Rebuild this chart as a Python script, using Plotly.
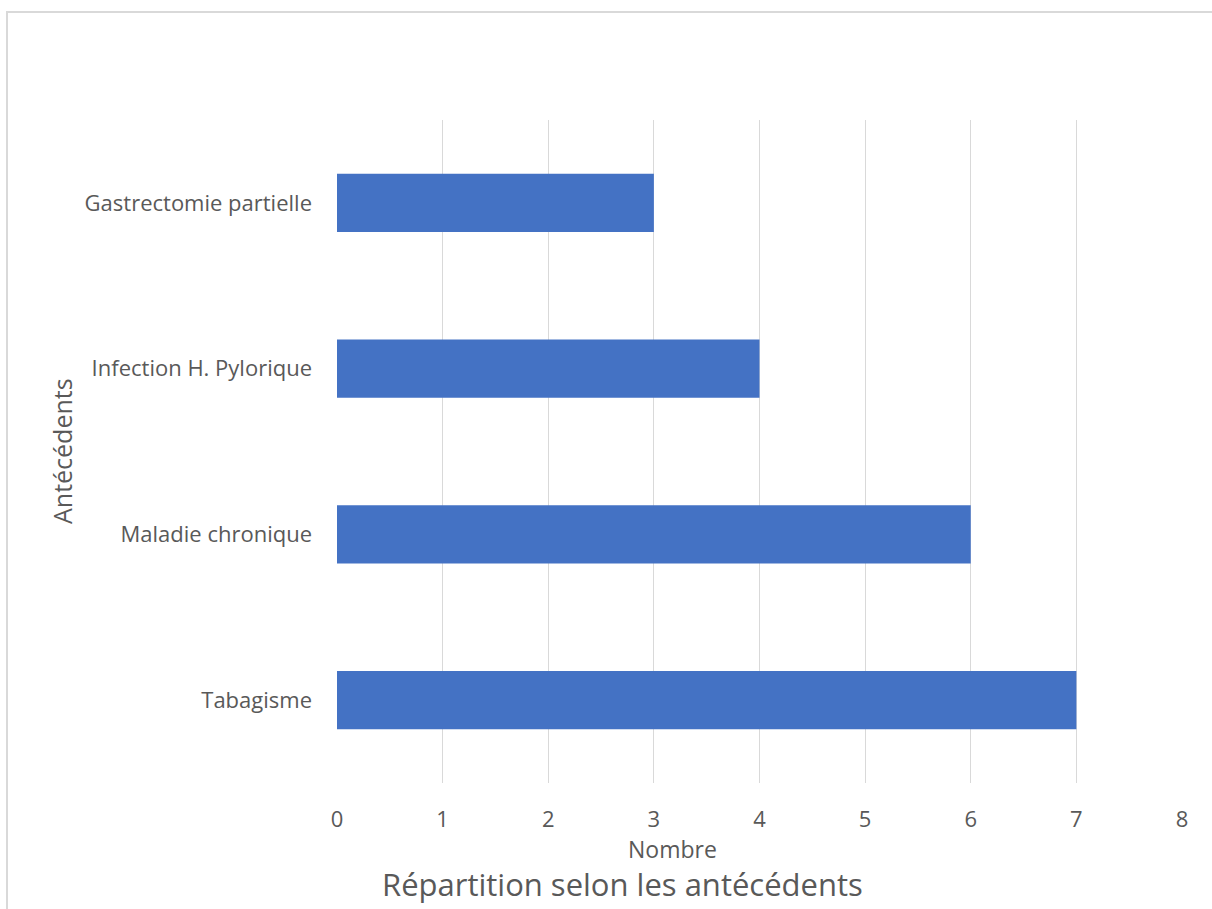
import plotly.graph_objects as go

categories = ["Tabagisme", "Maladie chronique", "Infection H. Pylorique", "Gastrectomie partielle"]
values = [7, 6, 4, 3]
x_ticks = [0, 1, 2, 3, 4, 5, 6, 7, 8]

W, H = 1212, 909
L, R, T, B = 337, 30, 120, 126
pw, ph = W - L - R, H - T - B

def px(x):
    return (x - L) / pw

def py(y):
    return (H - B - y) / ph

FONT = "Open Sans"
GREY = "#595959"

fig = go.Figure(go.Bar(
    y=categories, x=values, orientation="h",
    marker=dict(color="#4472C4", line=dict(width=0)),
    width=0.35,
))

fig.update_layout(
    width=W, height=H,
    margin=dict(l=L, r=R, t=T, b=B, pad=0),
    paper_bgcolor="white", plot_bgcolor="white",
    showlegend=False,
    font=dict(family=FONT, color=GREY, size=22),
    xaxis=dict(range=[0, 8], tickvals=x_ticks, showgrid=True, gridcolor="#d9d9d9",
               gridwidth=1, zeroline=False, showline=False, ticks="",
               ticklabelstandoff=21, tickfont=dict(size=22, color=GREY)),
    yaxis=dict(showgrid=False, zeroline=False, showline=False, ticks="",
               ticklabelstandoff=24, tickfont=dict(size=22, color=GREY),
               range=[-0.5, 3.5]),
    bargap=0.65,
    annotations=[
        dict(text="Nombre", x=px(672), y=py(849), xref="paper", yref="paper",
             showarrow=False, font=dict(size=23, color=GREY, family=FONT),
             xanchor="center", yanchor="middle"),
        dict(text="Répartition selon les antécédents", x=px(622), y=py(884), xref="paper", yref="paper",
             showarrow=False, font=dict(size=31, color=GREY, family=FONT),
             xanchor="center", yanchor="middle"),
        dict(text="Antécédents", x=px(62), y=py(451), xref="paper", yref="paper",
             showarrow=False, textangle=-90, font=dict(size=25, color=GREY, family=FONT),
             xanchor="center", yanchor="middle"),
    ],
    shapes=[
        dict(type="rect", xref="paper", yref="paper",
             x0=px(7), y0=py(915), x1=px(1220), y1=py(12),
             line=dict(color="#d9d9d9", width=2), fillcolor="rgba(0,0,0,0)", layer="below"),
    ],
)

fig.write_html("out.html")
